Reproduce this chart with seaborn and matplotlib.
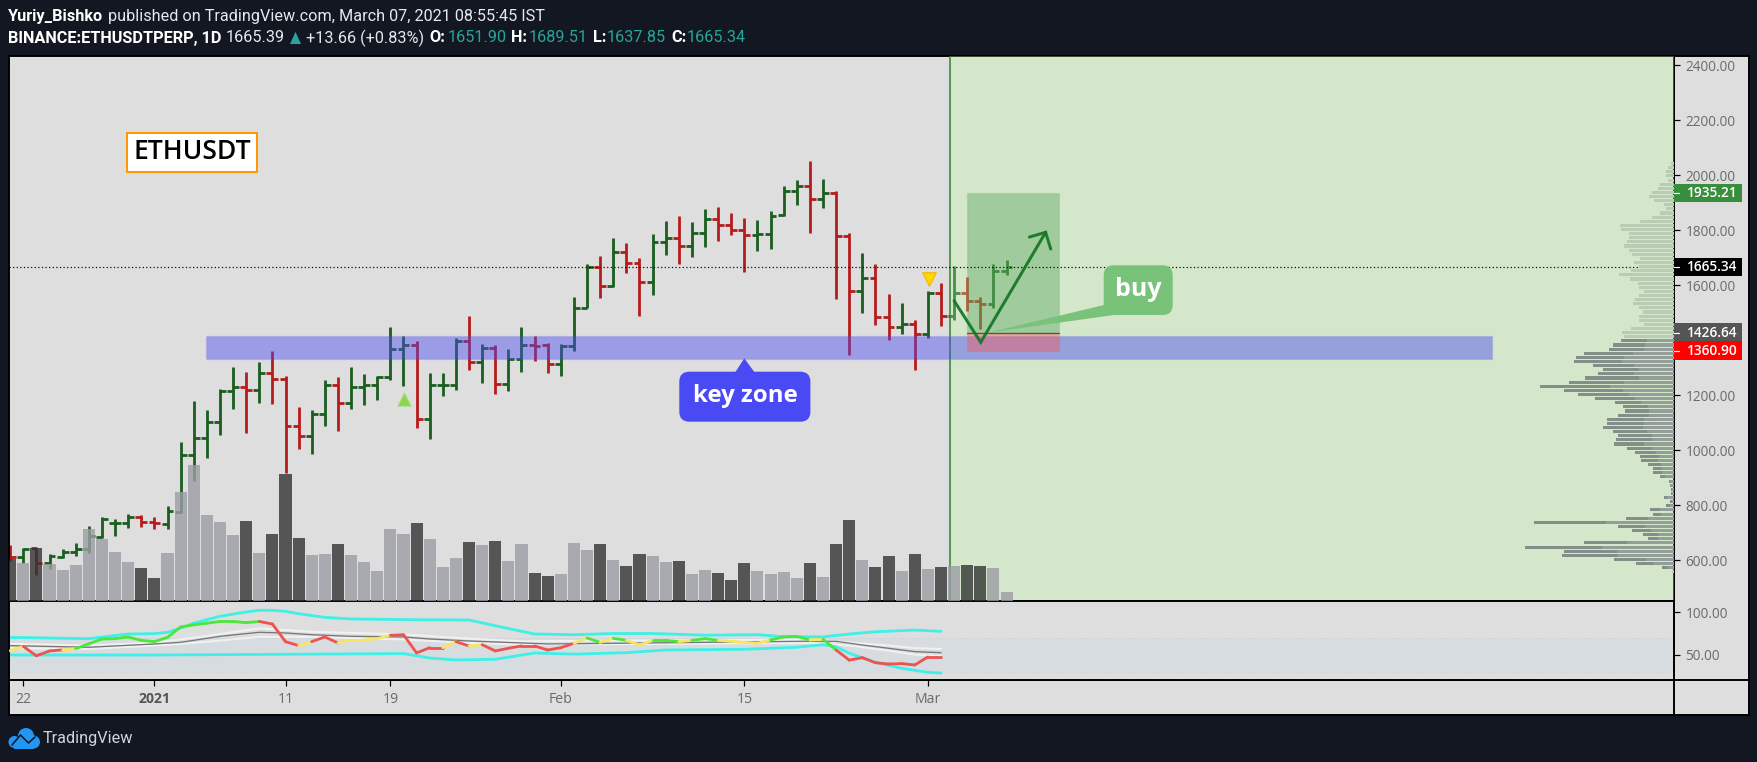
import numpy as np
import pandas as pd
import matplotlib
matplotlib.use("Agg")
import matplotlib.pyplot as plt
from matplotlib.patches import Rectangle, FancyBboxPatch, Polygon, Circle
from matplotlib.transforms import blended_transform_factory
import seaborn as sns

# ---------- data ----------
days = list(range(-1, 76))      # day index, 0 = 22 Dec 2020
opens = [642,609.8,642.5,588,612,630.4,638.9,685,733,733,757.6,737,729.8,775.8,982,1042,1100.7,1214.6,1228,1217,1279,1257,1086,1050,1130,1235,1170,1231,1235,1264,1366,1380.7,1111.6,1235,1235,1395,1319,1370,1239,1330,1380.7,1380.7,1312.8,1377,1515,1664,1595,1720,1678.8,1609.7,1756,1769.7,1740.6,1787.9,1842,1817,1802,1780.6,1784,1853,1941.8,1960,1911.5,1934.5,1777,1580,1624,1483.7,1446,1457,1420.7,1571,1487,1569.7,1540.6,1529.7,1651.9]
highs = [654.6,642.5,646,620.7,638.9,660.7,723.7,755,747.9,767.3,762.5,755,796.4,1029,1178,1145,1222,1302,1283.7,1320,1360,1269,1156,1145,1254.6,1264,1302,1276,1269,1447,1414.6,1396,1280,1280,1407,1487,1385.5,1382,1367,1447,1414.6,1389,1385.5,1556,1676,1705,1770.9,1752.8,1698,1785.5,1832.7,1850.9,1829,1876.4,1883.6,1861.8,1843.7,1836,1869,1960,1981.8,2050.9,1985.5,1941.8,1789,1716.4,1676,1567,1534.6,1472.8,1578,1607,1669,1629,1556,1676,1689.51]
lows = [597.7,588,545.5,566,606,615.8,626.7,681,687.3,717.6,721,712.8,712.8,770,888.5,972,1054.6,1149,1062,1171,1167,915,1004,985.5,1087,1069,1149,1163.7,1181.9,1254.6,1232.8,1080,1040,1196.5,1218,1291,1243.7,1203.7,1214.6,1283.7,1323.7,1280,1269,1360,1515,1552.8,1592.8,1643.7,1487,1563.7,1709,1676,1701.8,1738,1760,1781.8,1647,1723.7,1730.9,1850.9,1890.9,1789,1880,1549,1345,1498,1454.6,1400,1421.9,1291,1407,1451,1472.8,1506.7,1440,1515,1637.85]
closes = [609.8,640,588,616,630.4,638.9,687.3,749,733,755,737,735,778,982,1042,1100.7,1214.6,1228,1217,1279,1257,1086,1050,1129.8,1235,1170,1231,1235,1264,1366,1380.7,1111.6,1235,1235,1395,1319,1369.8,1239,1329.8,1380.7,1378,1312.8,1377,1516,1664,1596.4,1720,1678.8,1609.7,1756,1769.7,1740.6,1787.9,1842,1817,1802,1780.6,1784,1849.7,1941.8,1960,1911.5,1934.5,1777,1580,1624,1483.7,1446,1457,1420.7,1571,1487,1569.7,1540.6,1529.7,1649.7,1665.34]
volume = [42,38,53,37,31,36,72,62,49,39,33,23,48,109,136,86,79,66,80,48,67,127,63,46,47,57,46,39,30,72,67,78,62,34,43,59,56,60,40,57,28,25,27,58,51,57,41,35,47,45,39,40,27,31,28,21,38,30,27,29,23,38,24,57,81,41,34,45,30,47,32,34,35,36,35,33,9]

rsi = [55,60,49,54.7,56,57.4,63,68.6,69,71,67,65.5,70.5,82.6,85,87,89,89,87.6,89,86,65.5,60.9,65.5,71,64,67.5,67.5,69,73,73.6,52.4,58.5,58.5,65.5,60.5,62,54.7,57.8,60.5,60.5,55.8,58.5,63.6,69.8,64.7,69.4,67,61.6,67,67,65.5,67,69,67,65.9,64.7,63.6,67.5,71,71.7,67.5,68.2,55.8,44,46.9,41,39.5,40,38.4,47.7,47.7]
# colour of the segment that starts at each day, day -1 onwards
rsi_state = list("y" "rrr" "y" "gggggggggggggg" "rrr" "y" "rr" "yyyy" "rrrr" "y" "r" "y" "rrrrrrr"
                 "y" "g" "y" "g" "yy" "gg" "y" "gg" "yyyy" "ggg" "y" "g" "rrrrrrrrrr")

band_days = [-1,5,8,10,11,12,13,15,17,18,19,20,21,23,25,30,34,36,39,42,45,48,52,56,58,61,63,65,68,70]
band_upper = [70.5,69,74.4,74.8,76.4,81.4,87,95,100,102,102,100.8,98,93.8,91.9,91,90.7,84,74.4,73.6,75,75,73,73.6,71.3,71,74.4,77,79,77.5]
low_days = [-1,10,29,31,33,36,39,42,46,49,55,59,61,62,63,65,67,69,70]
band_lower = [50,50,51.6,46.5,44.2,45,52.3,51,52.7,55.8,56.6,59,62,59.7,52,41.5,34.5,29.8,29]
ma_days = [-1,5,10,12,15,18,20,22,25,29,31,34,38,40,50,60,62,64,66,68,70]
rsi_ma = [60.9,59,62.8,64.7,71.7,76.4,75.6,73.6,71.7,71,68.6,66.3,64,62.8,64.4,66,65.9,61.6,57.8,53.9,52.7]
pale_days = [-1,5,10,13,18,22,29,34,38,50,60,63,66,68,70]
pale_upper = [63,61,64.5,70,81,77,74,69,66,67,68,64.5,61,58,57]
pale_lower = [58,57,61,64,71,71,68,64,62,63,64,61,55,50.5,49]

profile_top = 2042
profile_step = 15
profile_total = [10,18,25,25,19,43,49,67,76,61,31,25,43,67,103,163,160,136,136,142,151,136,127,103,121,106,130,166,133,109,106,91,106,118,124,106,94,106,106,91,130,157,151,
 160,184,196,271,295,301,244,214,229,268,316,403,331,289,238,178,154,148,169,202,202,214,184,169,175,181,
 142,118,103,100,79,64,64,43,16,13,9,9,31,13,25,73,64,145,421,169,127,94,79,271,448,331,337,181,115,37,7]
profile_inner = [82,88,91,124,151,157,121,106,121,106,151,193,154,136,118,100,78,76,76,91,91,94,82,67,67,91,
 67,55,46,49,40,37,37,28,13,9,6,6,22,6,12,43,40,79,205,88,70,49,49,142,217,172,169,85,61,19]

price_ticks = [600,800,1000,1200,1400,1600,1800,2000,2200,2400]
hidden_price_ticks = [1400]     # covered by the value tags in the reference
rsi_ticks = [50,100]
time_tick_days = [0,10,20,28,41,55,69]
time_labels = ["22","2021","11","19","Feb","15","Mar"]
last_price, entry_price, stop_price, target_price = 1665.34, 1426.64, 1360.90, 1935.21
zone_low, zone_high = 1332, 1414.6

# ---------- style ----------
W, H = 1758, 762
sns.set_theme(style="white")
plt.rcParams["font.family"] = ["Open Sans", "DejaVu Sans"]
PX = 72 / 100
FIG = "#131722"; PANEL = "#DEDEDE"
fig = plt.figure(figsize=(W / 100, H / 100), dpi=100, facecolor=FIG)

def axpx(x0, y0, x1, y1, **kw):
    return fig.add_axes([x0 / W, 1 - y1 / H, (x1 - x0) / W, (y1 - y0) / H], **kw)

# backing panel
back = axpx(9, 56, 1749, 715, zorder=0)
back.set_facecolor(PANEL); back.set_xticks([]); back.set_yticks([])
for s in back.spines.values():
    s.set_color("black"); s.set_linewidth(1.4)

XL = (-1.0908, 125.91)
ax = axpx(9, 56, 1674, 601, zorder=1)
ax.set_facecolor(PANEL)
ax.set_xlim(*XL); ax.set_ylim(451, 2433)

# price bars
days_a = np.array(days, float)
o, h, l, c = map(np.array, (opens, highs, lows, closes))
up = c >= o
GREEN, RED = "#1B5E20", "#B71C1C"
cols = np.where(up, GREEN, RED)
ax.vlines(days_a, l, h, colors=cols, lw=2.8 * PX, zorder=2)
ax.hlines(o, days_a - 0.45, days_a, colors=cols, lw=2.8 * PX, zorder=2)
ax.hlines(c, days_a, days_a + 0.45, colors=cols, lw=2.8 * PX, zorder=2)

# zones
ax.axvspan(70.65, XL[1], color="#C3FF9E", alpha=0.3, lw=0, zorder=3)
ax.axvline(70.65, color="#2E7D32", lw=1.5 * PX, zorder=3)
ax.add_patch(Rectangle((13.96, zone_low), 112.03 - 13.96, zone_high - zone_low, fc=(0.29, 0.29, 0.94, 0.45),
                       ec=(0.29, 0.29, 0.94, 0.12), lw=1, zorder=3.2))
ax.add_patch(Rectangle((72, entry_price), 7.02, target_price - entry_price, fc=(0.157, 0.55, 0.196, 0.3),
                       ec=(0.157, 0.55, 0.196, 0.1), lw=1, zorder=3.4))
ax.add_patch(Rectangle((72, stop_price), 7.02, entry_price - stop_price, fc=(1, 0.32, 0.32, 0.4),
                       ec=(1, 0.32, 0.32, 0.2), lw=1, zorder=3.4))
ax.plot([72, 79.02], [entry_price, entry_price], color="#555555", lw=1.3 * PX, zorder=3.5)
ax.axhline(last_price, color="black", lw=1.2 * PX, ls=(0, (1, 2)), zorder=3.6)

# triangles
ax.scatter([29.06], [1185], marker="^", s=95, c="#8BD64B", edgecolors="#B4D99A", linewidths=0.8, zorder=3.7)
ax.scatter([69.1], [1622], marker="v", s=95, c="#FFD600", edgecolors="#F2B600", linewidths=0.8, zorder=3.7)

# drawn arrow
ACOL = (0.08, 0.46, 0.14, 0.92)
ax.plot([71, 73.03, 77.98], [1543, 1391.7, 1791.7], color=ACOL, lw=3 * PX, solid_joinstyle="miter", zorder=4)
ax.plot([76.74, 77.98, 78.37], [1774.6, 1791.7, 1731], color=ACOL, lw=3 * PX, solid_joinstyle="miter", zorder=4)

# last-value tags
btr = blended_transform_factory(ax.transAxes, ax.transData)
for val, colr in [(target_price, "#388E3C"), (last_price, "#000000"), (entry_price, "#555555"), (stop_price, "#FF0000")]:
    ax.add_patch(Rectangle((1.0, val - 34), 68 / 1665, 68, transform=btr, fc=colr, ec="none", clip_on=False, zorder=6))
    ax.plot([1.0, 1 + 5.5 / 1665], [val, val], transform=btr, color="white", lw=1.2 * PX, clip_on=False, zorder=7)
    ax.text(1 + 13 / 1665, val, f"{val:.2f}", transform=btr, color="white", fontsize=13.6 * PX, fontweight="semibold",
            va="center", ha="left", zorder=8, clip_on=False)

# volume
vol_ax = ax.twinx()
vol_ax.set_zorder(2); vol_ax.patch.set_visible(False)
vdf = pd.DataFrame({"day": days_a, "vol": volume, "dir": np.where(up, "up", "down")})
sns.barplot(data=vdf, x="day", y="vol", hue="dir", palette={"up": "#9C9DA4", "down": "#333333"}, native_scale=True,
            dodge=False, width=0.92, saturation=1, errorbar=None, legend=False, linewidth=0, alpha=0.8, ax=vol_ax)
vol_ax.set_xlim(*XL); vol_ax.set_ylim(0, 545)
vol_ax.set_xlabel(""); vol_ax.set_ylabel("")
vol_ax.set_yticks([]); vol_ax.set_xticks([])
for s in vol_ax.spines.values():
    s.set_visible(False)

# volume profile
prof = ax.twiny()
prof.set_zorder(3); prof.patch.set_visible(False)
prof.set_xlim(4995, 0)
levels = profile_top - profile_step * np.arange(len(profile_total))
is_pale = np.arange(len(profile_total)) < 43
total = np.array(profile_total, float)
colors_prof = np.where(is_pale | (levels < 570), "#B9CCB4", "#828F88")
prof.barh(levels, total, height=11, color=colors_prof, lw=0)
prof.barh(levels[43:43 + len(profile_inner)], profile_inner, height=11, color="#929E97", lw=0)
prof.set_xticks([])
for s in prof.spines.values():
    s.set_visible(False)

# price axis (after the twins, which move the ticks to the left)
ax.yaxis.tick_right()
ax.set_yticks(price_ticks)
ax.set_yticklabels(["" if t in hidden_price_ticks else f"{t:.2f}" for t in price_ticks], fontsize=13.6 * PX, color="#6A6A6A")
ax.tick_params(axis="y", length=5.5 * PX, width=1.2 * PX, color="black", pad=6 * PX, right=True, left=False)
ax.set_xticks([])
for s in ax.spines.values():
    s.set_color("black"); s.set_linewidth(1.4)

# RSI panel
ax2 = axpx(9, 601, 1674, 680, zorder=1)
ax2.set_facecolor(PANEL)
ax2.set_xlim(*XL); ax2.set_ylim(20.9, 112.8)
ax2.axhspan(30, 70, color="#D6DCE0", lw=0, zorder=1)
for v in (30, 70):
    ax2.axhline(v, color="#C9CDD0", lw=0.8 * PX, ls=(0, (1, 2)), zorder=1.1)
sns.lineplot(x=pale_days, y=pale_upper, color="#F1F1F1", lw=2 * PX, estimator=None, ax=ax2, zorder=2)
sns.lineplot(x=pale_days, y=pale_lower, color="#F1F1F1", lw=2 * PX, estimator=None, ax=ax2, zorder=2)
sns.lineplot(x=ma_days, y=rsi_ma, color="#777777", lw=1.3 * PX, estimator=None, ax=ax2, zorder=2.2)
sns.lineplot(x=band_days, y=band_upper, color="#3FF0E6", lw=2.8 * PX, estimator=None, ax=ax2, zorder=2.4)
sns.lineplot(x=low_days, y=band_lower, color="#3FF0E6", lw=2.8 * PX, estimator=None, ax=ax2, zorder=2.4)
scol = {"r": "#EF5350", "y": "#F5E663", "g": "#4CE63C"}
rsi_x = days[:len(rsi)]
for i in range(len(rsi) - 1):
    ax2.plot(rsi_x[i:i + 2], rsi[i:i + 2], color=scol[rsi_state[i]], lw=2.8 * PX, solid_capstyle="round", zorder=3)
ax2.set_xlabel(""); ax2.set_ylabel("")
ax2.yaxis.tick_right()
ax2.set_yticks(rsi_ticks)
ax2.set_yticklabels([f"{t:.2f}" for t in rsi_ticks], fontsize=13.6 * PX, color="#6A6A6A")
ax2.tick_params(axis="y", length=5.5 * PX, width=1.2 * PX, color="black", pad=6 * PX, right=True, left=False)
ax2.set_xticks(time_tick_days)
ax2.set_xticklabels(time_labels, fontsize=14 * PX, color="#6A6A6A")
ax2.tick_params(axis="x", length=6 * PX, width=1.2 * PX, color="black", pad=6 * PX, bottom=True)
for lab in ax2.get_xticklabels():
    if lab.get_text() == "2021":
        lab.set_fontweight("bold"); lab.set_color("#555555")
for s in ax2.spines.values():
    s.set_color("black"); s.set_linewidth(1.4)

# right divider in the time row
back.plot([1665 / 1740, 1665 / 1740], [0, 1], transform=back.transAxes, color="black", lw=1.4, clip_on=False)
back.plot([0, 1], [1 - 624 / 659, 1 - 624 / 659], transform=back.transAxes, color="black", lw=1.4)

# overlay in pixel space: callouts, label, header
ov = fig.add_axes([0, 0, 1, 1], zorder=10)
ov.set_xlim(0, W); ov.set_ylim(H, 0); ov.axis("off"); ov.patch.set_visible(False)

def box(x0, y0, x1, y1, r, fc, ec="none", lw=0, alpha=None):
    ov.add_patch(FancyBboxPatch((x0 + r, y0 + r), x1 - x0 - 2 * r, y1 - y0 - 2 * r,
                                boxstyle=f"round,pad={r},rounding_size={r}", fc=fc, ec=ec, lw=lw, alpha=alpha))

BLUE = "#4A4AF5"
box(679.3, 371.7, 810.4, 421.7, 10, BLUE)
ov.add_patch(Polygon([(735.4, 372), (744.3, 358.3), (754.3, 372)], fc=BLUE, ec="none"))
ov.text(745, 396, "key zone", color="white", fontsize=24 * PX, fontweight="bold", ha="center", va="center")

BUY = "#78C27A"
box(1103.7, 265.3, 1172.7, 315, 10, BUY)
ov.add_patch(Polygon([(1104, 305), (1114, 315), (990, 332.3)], fc=BUY, ec="none"))
ov.text(1138, 290, "buy", color="white", fontsize=25 * PX, fontweight="bold", ha="center", va="center")

ov.add_patch(Rectangle((127.5, 133), 129.5, 38.5, fc="white", ec="#FF9800", lw=2 * PX))
ov.text(192, 152, "ETHUSDT", color="black", fontsize=26.5 * PX, fontweight="semibold", ha="center", va="center")

HF = ["Roboto", "DejaVu Sans"]
HS = 16.2 * PX
def ht(x, y, s, color="white", weight="normal"):
    ov.text(x, y, s, color=color, fontsize=HS, fontweight=weight, family=HF, ha="left", va="center")
TEAL = "#26A69A"
ht(8, 16, "Yuriy_Bishko", weight="bold")
ht(108, 16, "published on TradingView.com, March 07, 2021 08:55:45 IST", color="#E6E8EC")
ht(8, 38, "BINANCE:ETHUSDTPERP, 1D", weight="bold")
ht(226, 38, "1665.39", color="#E6E8EC")
ov.add_patch(Polygon([(290, 44), (295.5, 32), (301, 44)], fc=TEAL, ec="none"))
ht(306, 38, "+13.66 (+0.83%)", color="#E6E8EC")
for x0, lab, x1, val in [(429, "O:", 448, "1651.90"), (511, "H:", 529, "1689.51"), (593, "L:", 607, "1637.85"), (671, "C:", 687, "1665.34")]:
    ht(x0, 38, lab, weight="bold")
    ht(x1, 38, val, color=TEAL)

# logo
LOGO = "#2196F3"
ov.add_patch(Circle((14.5, 742), 6, fc=LOGO, ec="none"))
ov.add_patch(Circle((26, 736), 8, fc=LOGO, ec="none"))
ov.add_patch(Circle((33.5, 742), 6.5, fc=LOGO, ec="none"))
ov.add_patch(Rectangle((14, 740), 20, 8.5, fc=LOGO, ec="none"))
ov.plot([12, 20.5, 28.5, 35], [745, 735, 743, 737], color=FIG, lw=1.6 * PX)
ov.text(42.5, 739, "TradingView", color="#D1D4DC", fontsize=16.3 * PX, family=HF, ha="left", va="center")

fig.savefig("out.png", dpi=100, facecolor=FIG)
